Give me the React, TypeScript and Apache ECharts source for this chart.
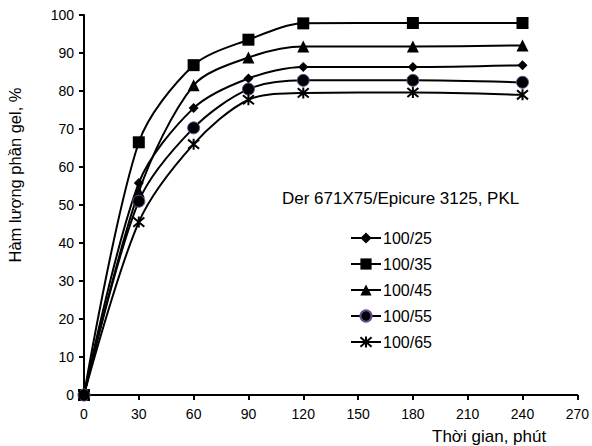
import React, { useEffect, useRef } from "react";
import * as echarts from "echarts";

const times = [0, 30, 60, 90, 120, 180, 240];
const s25 = [0, 55.8, 75.5, 83.3, 86.3, 86.3, 86.8];
const s35 = [0, 66.5, 86.8, 93.5, 97.8, 97.9, 97.9];
const s45 = [0, 53.5, 81.5, 88.8, 91.7, 91.7, 92.0];
const s55 = [0, 51.0, 70.3, 80.5, 82.8, 82.8, 82.3];
const s65 = [0, 45.5, 66.0, 77.7, 79.5, 79.6, 79.0];
const names = ["100/25", "100/35", "100/45", "100/55", "100/65"];
const xTicks = { min: 0, max: 270, interval: 30 };
const yTicks = { min: 0, max: 100, interval: 10 };
const annotation = "Der 671X75/Epicure 3125, PKL";
const xTitle = "Thời gian, phút";
const yTitle = "Hàm lượng phần gel, %";

const FONT = "Liberation Sans, Arial, sans-serif";

export default function App() {
  const ref = useRef<HTMLDivElement>(null);
  useEffect(() => {
    document.body.style.margin = "0";
    const chart = echarts.init(ref.current!, null, { renderer: "svg" });
    const mk = (vals: number[]) => times.map((t, i) => [t, vals[i]]);
    const base = {
      type: "line",
      smooth: 0.3,
      lineStyle: { color: "#000", width: 2 },
      itemStyle: { color: "#000" },
    };
    const star = "path://M0,0L10,10M10,0L0,10M5,-1L5,11";
    chart.setOption({
      animation: false,
      backgroundColor: "#fff",
      grid: { left: 84, top: 15, right: 12, bottom: 51 },
      textStyle: { fontFamily: FONT },
      xAxis: {
        type: "value",
        min: xTicks.min,
        max: xTicks.max,
        interval: xTicks.interval,
        axisLine: { lineStyle: { color: "#000", width: 2 } },
        axisTick: { show: true, length: 5, lineStyle: { color: "#000", width: 2 } },
        axisLabel: { color: "#000", fontSize: 14, fontFamily: FONT, margin: 12 },
        splitLine: { show: false },
      },
      yAxis: {
        type: "value",
        min: yTicks.min,
        max: yTicks.max,
        interval: yTicks.interval,
        axisLine: { show: true, lineStyle: { color: "#000", width: 2 } },
        axisTick: { show: true, length: 5, lineStyle: { color: "#000", width: 2 } },
        axisLabel: { color: "#000", fontSize: 14, fontFamily: FONT, margin: 10 },
        splitLine: { show: false },
      },
      legend: {
        orient: "vertical",
        left: 345,
        top: 225,
        itemGap: 10,
        itemWidth: 30,
        itemHeight: 14,
        textStyle: { color: "#000", fontSize: 16, lineHeight: 16, fontFamily: FONT, padding: [0, 0, 0, -3] },
        data: names,
      },
      graphic: [
        {
          type: "text",
          x: 282,
          y: 198,
          style: { text: annotation, fill: "#000", font: `17px ${FONT}`, verticalAlign: "middle" },
        },
        {
          type: "text",
          x: 432,
          y: 436,
          style: { text: xTitle, fill: "#000", font: `17px ${FONT}`, verticalAlign: "middle" },
        },
        {
          type: "text",
          x: 15,
          y: 175,
          rotation: Math.PI / 2,
          style: {
            text: yTitle,
            fill: "#000",
            font: `16.5px ${FONT}`,
            align: "center",
            verticalAlign: "middle",
          },
        },
      ],
      series: [
        { ...base, name: names[0], data: mk(s25), symbol: "diamond", symbolSize: 10 },
        { ...base, name: names[1], data: mk(s35), symbol: "rect", symbolSize: 12 },
        { ...base, name: names[2], data: mk(s45), symbol: "triangle", symbolSize: 12 },
        {
          ...base,
          name: names[3],
          data: mk(s55),
          symbol: "circle",
          symbolSize: 12,
          itemStyle: { color: "#000", borderColor: "#6b4d94", borderWidth: 1 },
        },
        {
          ...base,
          name: names[4],
          data: mk(s65),
          symbol: star,
          symbolSize: 11,
          itemStyle: { color: "#000", borderColor: "#000", borderWidth: 2 },
        },
      ],
    });
    return () => chart.dispose();
  }, []);
  return <div ref={ref} style={{ width: 592, height: 446 }} />;
}
